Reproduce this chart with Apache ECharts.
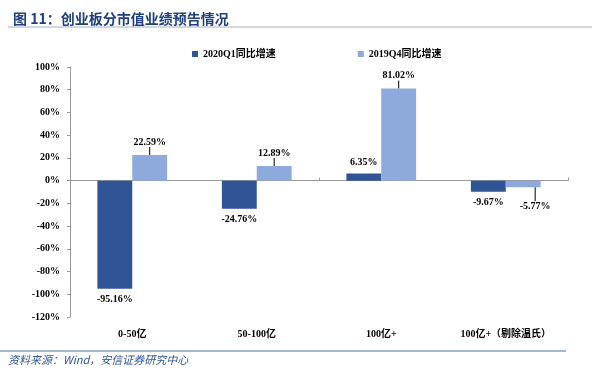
<!DOCTYPE html>
<html><head><meta charset="utf-8">
<script src="https://cdn.jsdelivr.net/npm/echarts@6/dist/echarts.min.js"></script>
<style>html,body{margin:0;padding:0;background:#fff}#c{width:600px;height:372px}</style>
</head><body><div id="c"></div>
<script>
const categories = ['0-50亿', '50-100亿', '100亿+', '100亿+（剔除温氏）'];
const q1Values = [-95.16, -24.76, 6.35, -9.67];
const q4Values = [22.59, 12.89, 81.02, -5.77];
const seriesNames = ['2020Q1同比增速', '2019Q4同比增速'];
const yTicks = {min: -120, max: 100, interval: 20};

const serif = "'Liberation Serif', 'Times New Roman', 'Noto Sans CJK SC', serif";
const dark = '#2F5597', light = '#8EA9DB';
const chart = echarts.init(document.getElementById('c'));
const lblBase = {show: true, fontFamily: serif, fontWeight: 'bold', fontSize: 10, color: '#000',
  formatter: p => p.value.toFixed(2) + '%'};
chart.setOption({
  animation: false,
  title: {text: '图 11：创业板分市值业绩预告情况', left: 8, top: 7,
    textStyle: {fontSize: 14, fontWeight: 'bold', color: '#1F3F7F', fontFamily: "'Noto Sans CJK SC', sans-serif"}},
  graphic: [
    {type: 'line', shape: {x1: 8, y1: 27, x2: 592, y2: 27}, style: {stroke: '#A6AEC4', lineWidth: 1}},
    {type: 'line', shape: {x1: 0, y1: 351, x2: 566, y2: 351}, style: {stroke: '#4A6EA8', lineWidth: 1}},
    {type: 'text', left: 8, top: 354, style: {text: '资料来源：Wind，安信证券研究中心', fontSize: 11,
      fontStyle: 'italic', fill: '#2F5597', fontFamily: "'Noto Sans CJK SC', sans-serif"}}
  ],
  legend: {top: 44, left: 187, itemWidth: 6, itemHeight: 6, icon: 'rect', itemGap: 82,
    textStyle: {fontFamily: serif, fontWeight: 'bold', fontSize: 10, color: '#000'},
    data: seriesNames},
  grid: {left: 70, right: 32, top: 67, bottom: 55, containLabel: false},
  xAxis: [
    {type: 'category', data: categories, axisLine: {onZero: true, lineStyle: {color: '#999'}},
     axisTick: {show: true, inside: true, length: 3, lineStyle: {color: '#999'}}, axisLabel: {show: false}},
    {type: 'category', data: categories, position: 'bottom', axisLine: {show: false, onZero: false},
     axisTick: {show: false}, axisLabel: {fontFamily: serif, fontWeight: 'bold', fontSize: 10, color: '#000', margin: 12}}
  ],
  yAxis: {type: 'value', min: yTicks.min, max: yTicks.max, interval: yTicks.interval,
    axisLine: {show: true, lineStyle: {color: '#999'}}, axisTick: {show: true, length: 3, lineStyle: {color: '#999'}},
    splitLine: {show: false},
    axisLabel: {formatter: '{value}%', fontFamily: serif, fontWeight: 'bold', fontSize: 10, color: '#000', margin: 10}},
  series: [
    {name: seriesNames[0], type: 'bar', xAxisIndex: 0, barWidth: '28%', barGap: '0%',
     itemStyle: {color: dark},
     data: q1Values.map(v => ({value: v, label: Object.assign({}, lblBase, {position: v >= 0 ? 'top' : 'bottom', distance: 6})}))},
    {name: seriesNames[1], type: 'bar', xAxisIndex: 0, barWidth: '28%',
     itemStyle: {color: light},
     labelLine: {show: true, lineStyle: {color: '#000', width: 1}},
     labelLayout: p => p.dataIndex === 3 ? {dx: 12, dy: 12} : {dy: -6},
     data: q4Values.map(v => ({value: v, label: Object.assign({}, lblBase, {position: v >= 0 ? 'top' : 'bottom', distance: 2})}))}
  ]
});
</script></body></html>
